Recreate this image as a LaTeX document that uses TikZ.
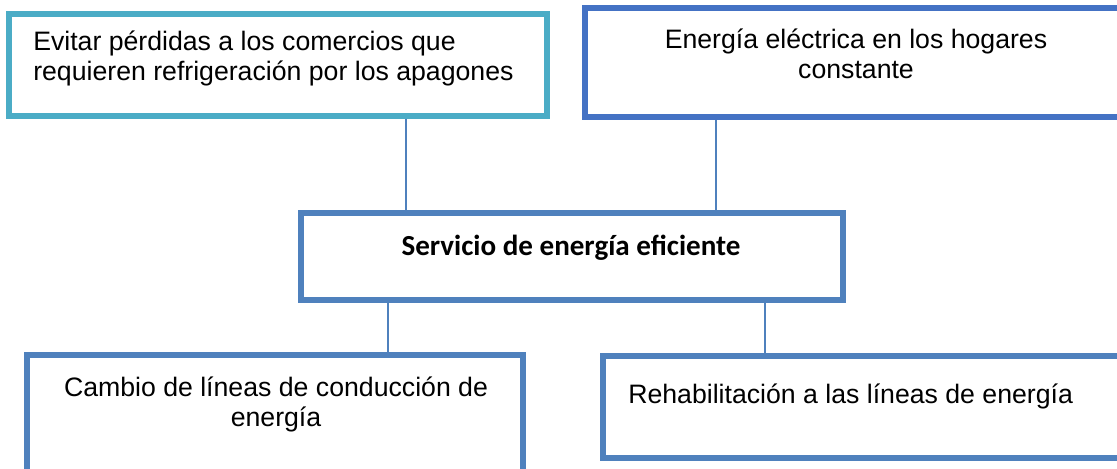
\documentclass[tikz,border=0pt]{standalone}
\usepackage{fontspec}
\setmainfont{Liberation Sans}
\newfontfamily\calibri{Carlito}
\definecolor{azul}{HTML}{4F81BD}
\definecolor{azuloscuro}{HTML}{4472C4}
\definecolor{turquesa}{HTML}{4BACC6}
\newcommand{\upx}{0.75pt}
\tikzset{
  caja/.style={draw=azul, line width=3.8pt, inner sep=0pt},
  texto/.style={font=\fontsize{20}{22.5}\selectfont, inner sep=0pt},
  enlace/.style={draw=azul, line width=1.5pt},
}
\begin{document}
\begin{tikzpicture}[x=0.75pt,y=-0.75pt]
    \useasboundingbox (0,0) rectangle (1117,468);
    \clip (0,0) rectangle (1117,468);
    % cajas
    \node[caja, draw=turquesa, minimum width=538*\upx, minimum height=102*\upx] (perdidas) at (278,65) {};
    \node[caja, draw=azuloscuro, minimum width=542*\upx, minimum height=109*\upx] (hogares) at (856,62.5) {};
    \node[caja, line width=4.3pt, minimum width=542*\upx, minimum height=87*\upx] (servicio) at (572,256.5) {};
    \node[caja, minimum width=496*\upx, minimum height=123*\upx] (cambio) at (275,416.5) {};
    \node[caja, minimum width=527*\upx, minimum height=102*\upx] (rehab) at (866.5,407) {};
    % textos
    \node[texto, align=left, anchor=west] (tperdidas) at (33,58) {Evitar pérdidas a los comercios que\\requieren refrigeración por los apagones};
    \node[texto, align=center] (thogares) at (856,54) {Energía eléctrica en los hogares\\constante};
    \node[texto, font=\calibri\bfseries\fontsize{21.8}{24}\selectfont] (tservicio) at (571,248) {Servicio de energía eficiente};
    \node[texto, align=center] (tcambio) at (276,404) {Cambio de líneas de conducción de\\energía};
    \node[texto, anchor=west] (trehab) at (628,396) {Rehabilitación a las líneas de energía};
    % enlaces
    \coordinate (c1) at (406,0);
    \coordinate (c2) at (716,0);
    \coordinate (c3) at (388,0);
    \coordinate (c4) at (765,0);
    \draw[enlace] (perdidas.south -| c1) -- (servicio.north -| c1);
    \draw[enlace] (hogares.south -| c2) -- (servicio.north -| c2);
    \draw[enlace] (servicio.south -| c3) -- (cambio.north -| c3);
    \draw[enlace] (servicio.south -| c4) -- (rehab.north -| c4);
\end{tikzpicture}
\end{document}
